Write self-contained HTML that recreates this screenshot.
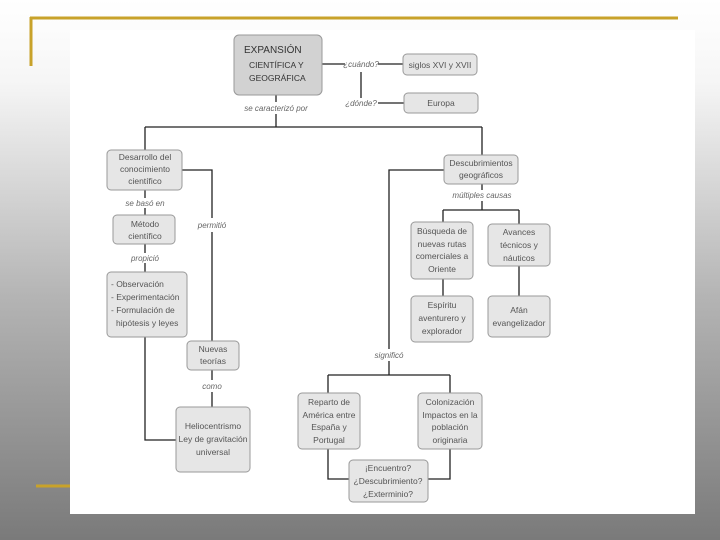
<!DOCTYPE html>
<html><head><meta charset="utf-8"><style>
html,body{margin:0;padding:0;width:720px;height:540px;overflow:hidden}
body{background:linear-gradient(to bottom,#ffffff 0%,#f6f6f6 15%,#b4b4b4 55%,#7a7a7a 100%)}
svg{position:absolute;left:0;top:0}
text{font-family:"Liberation Sans",sans-serif;fill:#555;font-size:8.5px;text-anchor:middle}
.b{fill:#e6e6e6;stroke:#999;stroke-width:1}
.l{stroke:#222;stroke-width:1.3;fill:none}
.i{font-style:italic;font-size:8px;fill:#666}
</style></head><body>
<svg width="720" height="540" viewBox="0 0 720 540">
<rect x="70" y="30" width="625" height="484" fill="#fff"/>
<line x1="30" y1="18" x2="678" y2="18" stroke="#c8a22a" stroke-width="3"/>
<line x1="31" y1="17" x2="31" y2="66" stroke="#c8a22a" stroke-width="3"/>
<line x1="36" y1="486" x2="70" y2="486" stroke="#c8a22a" stroke-width="3"/>

<!-- lines -->
<path class="l" d="M322 64H345M378 64H403M361 72V98M378 103H404"/>
<path class="l" d="M276 95V102M276 114V127M145 127H482M145 127V150M482 127V155"/>
<path class="l" d="M182 170H212V218M212 232V341M145 190V198M145 208V215M145 244V253M145 263V272M145 337V440H176"/>
<path class="l" d="M212 370V380M212 392V407"/>
<path class="l" d="M444 170H389V349M389 361V375M328 375H450M328 375V393M450 375V393M328 449V479H349M450 449V479H428"/>
<path class="l" d="M482 184V190M482 201V210M443 210H519M443 210V222M519 210V224M443 279V296M519 266V296"/>

<!-- boxes -->
<rect class="b" x="234" y="35" width="88" height="60" rx="5" style="fill:#d2d2d2"/>
<text x="244" y="53" style="text-anchor:start;font-size:10px;fill:#333">EXPANSIÓN</text>
<text x="249" y="68" style="text-anchor:start;font-size:8.5px;fill:#333">CIENTÍFICA Y</text>
<text x="249" y="81" style="text-anchor:start;font-size:8.5px;fill:#333">GEOGRÁFICA</text>
<rect class="b" x="403" y="54" width="74" height="21" rx="4"/><text x="440" y="68">siglos XVI y XVII</text>
<rect class="b" x="404" y="93" width="74" height="20" rx="4"/><text x="441" y="106">Europa</text>
<text class="i" x="361" y="67">¿cuándo?</text>
<text class="i" x="361" y="106">¿dónde?</text>
<text class="i" x="276" y="111">se caracterizó por</text>

<rect class="b" x="107" y="150" width="75" height="40" rx="4"/>
<text x="145" y="160">Desarrollo del</text><text x="145" y="172">conocimiento</text><text x="145" y="184">científico</text>
<text class="i" x="145" y="206">se basó en</text>
<rect class="b" x="113" y="215" width="62" height="29" rx="4"/>
<text x="145" y="227">Método</text><text x="145" y="239">científico</text>
<text class="i" x="145" y="261">propició</text>
<rect class="b" x="107" y="272" width="80" height="65" rx="4"/>
<g style="text-anchor:start"><text x="111" y="287" style="text-anchor:start">- Observación</text><text x="111" y="300" style="text-anchor:start">- Experimentación</text><text x="111" y="313" style="text-anchor:start">- Formulación de</text><text x="116" y="326" style="text-anchor:start">hipótesis y leyes</text></g>
<text class="i" x="212" y="228">permitió</text>
<rect class="b" x="187" y="341" width="52" height="29" rx="4"/>
<text x="213" y="352">Nuevas</text><text x="213" y="364">teorías</text>
<text class="i" x="212" y="389">como</text>
<rect class="b" x="176" y="407" width="74" height="65" rx="4"/>
<text x="213" y="429">Heliocentrismo</text><text x="213" y="442">Ley de gravitación</text><text x="213" y="455">universal</text>

<rect class="b" x="444" y="155" width="74" height="29" rx="4"/>
<text x="481" y="166">Descubrimientos</text><text x="481" y="178">geográficos</text>
<text class="i" x="482" y="198">múltiples causas</text>
<rect class="b" x="411" y="222" width="62" height="57" rx="4"/>
<text x="442" y="234">Búsqueda de</text><text x="442" y="247">nuevas rutas</text><text x="442" y="259">comerciales a</text><text x="442" y="272">Oriente</text>
<rect class="b" x="488" y="224" width="62" height="42" rx="4"/>
<text x="519" y="235">Avances</text><text x="519" y="248">técnicos y</text><text x="519" y="261">náuticos</text>
<rect class="b" x="411" y="296" width="62" height="46" rx="4"/>
<text x="442" y="308">Espíritu</text><text x="442" y="321">aventurero y</text><text x="442" y="334">explorador</text>
<rect class="b" x="488" y="296" width="62" height="41" rx="4"/>
<text x="519" y="313">Afán</text><text x="519" y="326">evangelizador</text>
<text class="i" x="389" y="358">significó</text>
<rect class="b" x="298" y="393" width="62" height="56" rx="4"/>
<text x="329" y="405">Reparto de</text><text x="329" y="418">América entre</text><text x="329" y="430">España y</text><text x="329" y="443">Portugal</text>
<rect class="b" x="418" y="393" width="64" height="56" rx="4"/>
<text x="450" y="405">Colonización</text><text x="450" y="418">Impactos en la</text><text x="450" y="430">población</text><text x="450" y="443">originaria</text>
<rect class="b" x="349" y="460" width="79" height="42" rx="4"/>
<text x="388" y="471">¡Encuentro?</text><text x="388" y="484">¿Descubrimiento?</text><text x="388" y="497">¿Exterminio?</text>
</svg>
</body></html>
